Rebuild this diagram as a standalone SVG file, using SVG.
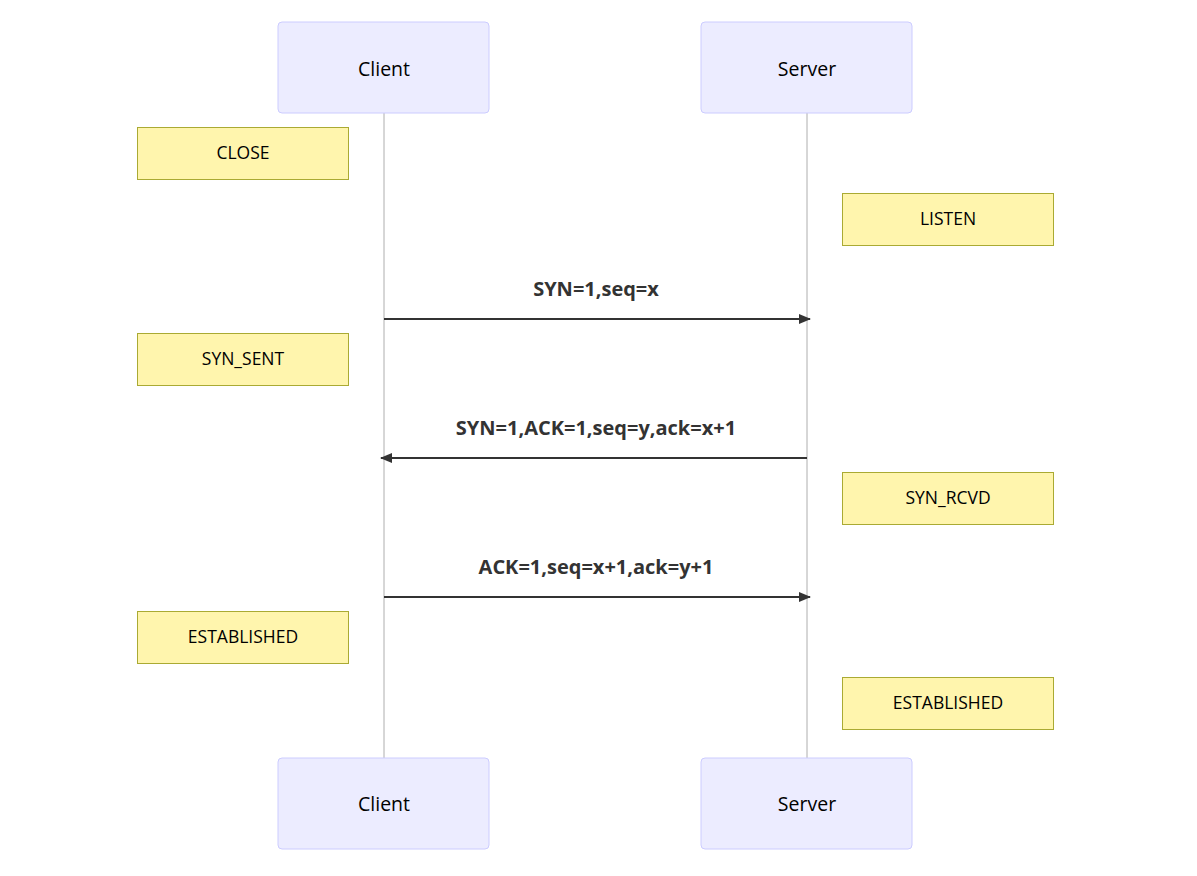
<svg xmlns="http://www.w3.org/2000/svg" width="1197" height="876" viewBox="0 0 1197 876">
<style>
.actor{fill:#ECECFF;stroke:#CCCCFF;stroke-width:1}
.atext{font-family:"Open Sans","DejaVu Sans",sans-serif;font-size:19.5px;fill:#000;text-anchor:middle;dominant-baseline:central}
.note{fill:#FFF5AD;stroke:#AAAA33;stroke-width:1}
.ntext{font-family:"Open Sans","DejaVu Sans",sans-serif;font-size:17.5px;fill:#000;text-anchor:middle;dominant-baseline:central}
.life{stroke:#999;stroke-width:0.8;fill:none}
.msg{stroke:#333;stroke-width:2;fill:none}
.mtext{font-family:"Open Sans","DejaVu Sans",sans-serif;font-size:20px;font-weight:bold;fill:#333;text-anchor:middle;dominant-baseline:central}
</style>
<defs>
<marker id="arrow" viewBox="0 0 12 10" refX="11" refY="5" markerWidth="12" markerHeight="10" markerUnits="userSpaceOnUse" orient="auto">
<path d="M0,0 L12,5 L0,10 z" fill="#333"/>
</marker>
</defs>
<rect width="1197" height="876" fill="#fff"/>
<g id="lifelines">
<line class="life" x1="384" y1="113" x2="384" y2="758"/>
<line class="life" x1="807" y1="113" x2="807" y2="758"/>
</g>
<g id="client-top"><rect class="actor" x="278" y="22" width="211" height="91" rx="4"/><text class="atext" x="384" y="68">Client</text></g>
<g id="server-top"><rect class="actor" x="701" y="22" width="211" height="91" rx="4"/><text class="atext" x="807" y="68">Server</text></g>
<g id="client-bottom"><rect class="actor" x="278" y="758" width="211" height="91" rx="4"/><text class="atext" x="384" y="803">Client</text></g>
<g id="server-bottom"><rect class="actor" x="701" y="758" width="211" height="91" rx="4"/><text class="atext" x="807" y="803">Server</text></g>
<g id="note-close"><rect class="note" x="137.5" y="127.5" width="211" height="52"/><text class="ntext" x="243" y="152">CLOSE</text></g>
<g id="note-listen"><rect class="note" x="842.5" y="193.5" width="211" height="52"/><text class="ntext" x="948" y="218">LISTEN</text></g>
<g id="note-synsent"><rect class="note" x="137.5" y="333.5" width="211" height="52"/><text class="ntext" x="243" y="358">SYN_SENT</text></g>
<g id="note-synrcvd"><rect class="note" x="842.5" y="472.5" width="211" height="52"/><text class="ntext" x="948" y="497">SYN_RCVD</text></g>
<g id="note-est-client"><rect class="note" x="137.5" y="611.5" width="211" height="52"/><text class="ntext" x="243" y="636">ESTABLISHED</text></g>
<g id="note-est-server"><rect class="note" x="842.5" y="677.5" width="211" height="52"/><text class="ntext" x="948" y="702">ESTABLISHED</text></g>
<g id="connectors">
<line class="msg" x1="384" y1="319" x2="810" y2="319" marker-end="url(#arrow)"/>
<text class="mtext" x="596" y="288">SYN=1,seq=x</text>
<line class="msg" x1="807" y1="458" x2="381" y2="458" marker-end="url(#arrow)"/>
<text class="mtext" x="596" y="427">SYN=1,ACK=1,seq=y,ack=x+1</text>
<line class="msg" x1="384" y1="597" x2="810" y2="597" marker-end="url(#arrow)"/>
<text class="mtext" x="596" y="566">ACK=1,seq=x+1,ack=y+1</text>
</g>
</svg>
